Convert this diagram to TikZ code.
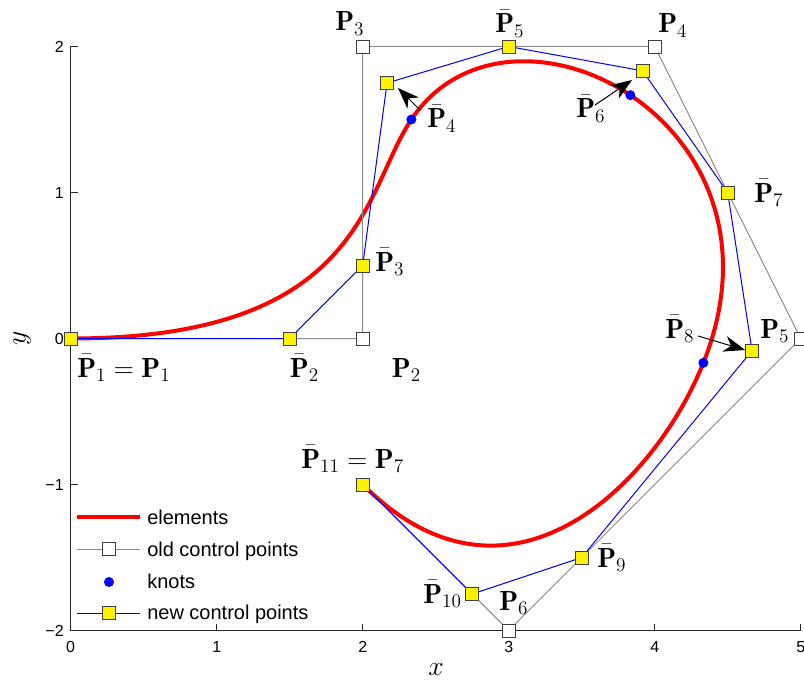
\documentclass[tikz,border=0pt]{standalone}
\usepackage{fontspec}
\newfontfamily\axfont{Liberation Sans}
\usetikzlibrary{arrows.meta}
\begin{document}
\begin{tikzpicture}[x=109.5pt,y=109.5pt,
  axisline/.style={line width=0.75pt,black!85},
  ticklab/.style={inner sep=0pt,font=\axfont\fontsize{12}{14}\selectfont},
  legtext/.style={anchor=base west,inner sep=0pt,font=\axfont\fontsize{15}{18}\selectfont},
  ptlabel/.style={anchor=base west,inner sep=0pt,font=\fontsize{20.74}{24}\selectfont},
  axlabel/.style={inner sep=0pt,font=\fontsize{20.74}{24}\selectfont},
  elem/.style={red,line width=3pt},
  oldline/.style={black!45,line width=0.75pt},
  newline/.style={blue,line width=0.75pt},
  oldmark/.style={rectangle,draw=black!75,fill=white,line width=0.6pt,minimum size=9.75pt,inner sep=0pt},
  newmark/.style={rectangle,draw=black!75,fill=yellow,line width=0.6pt,minimum size=9.75pt,inner sep=0pt},
  knotmark/.style={circle,fill=blue,minimum size=7.5pt,inner sep=0pt},
  arr/.style={-{Stealth[length=16pt,width=12pt,inset=5pt]},line width=0.75pt,black}]
\useasboundingbox (-0.4842,-2.3664) rectangle (5.0226,2.3185);

% data points
\coordinate (o1) at (0,0);
\coordinate (o2) at (2,0);
\coordinate (o3) at (2,2);
\coordinate (o4) at (4,2);
\coordinate (o5) at (5,0);
\coordinate (o6) at (3,-2);
\coordinate (o7) at (2,-1);
\coordinate (q1) at (0,0);
\coordinate (q2) at (1.5,0);
\coordinate (q3) at (2,0.5);
\coordinate (q4) at (2.16667,1.75);
\coordinate (q5) at (3,2);
\coordinate (q6) at (3.91667,1.83333);
\coordinate (q7) at (4.5,1);
\coordinate (q8) at (4.66667,-0.08333);
\coordinate (q9) at (3.5,-1.5);
\coordinate (q10) at (2.75,-1.75);
\coordinate (q11) at (2,-1);
\coordinate (k1) at (2.33333,1.5);
\coordinate (k2) at (3.83333,1.66667);
\coordinate (k3) at (4.33333,-0.16667);

% axes
\draw[axisline] (0,2) -- (0,-2) -- (5,-2);
\foreach \y/\t in {-2/−2,-1/−1,0/0,1/1,2/2}{
  \draw[axisline] (0,\y) -- ++(5.25pt,0);
  \node[ticklab,anchor=east] (yt\y) at (-0.0459,\y) {\t};
}
\foreach \x in {0,...,5}{
  \draw[axisline] (\x,-2) -- ++(0,5.25pt);
  \node[ticklab,anchor=north] (xt\x) at (\x,-2.0719) {\x};
}
\node[axlabel] (xl) at (2.5021,-2.2705) {$x$};
\node[axlabel,rotate=90] (yl) at (-0.3336,0) {$y$};

% elements
\draw[elem] (q1) .. controls (2,0) and (2,1) .. (k1)
  .. controls (2.66667,2) and (3.33333,2) .. (k2)
  .. controls (4.33333,1.33333) and (4.66667,0.66667) .. (k3)
  .. controls (4,-1) and (3,-2) .. (q11);

% old control polygon
\draw[oldline] (o1) -- (o2) -- (o3) -- (o4) -- (o5) -- (o6) -- (o7);
\foreach \i in {1,...,7}{ \node[oldmark] (O\i) at (o\i) {}; }

% knots
\foreach \i in {1,2,3}{ \node[knotmark] (K\i) at (k\i) {}; }

% new control polygon
\draw[newline] (q1) -- (q2) -- (q3) -- (q4) -- (q5) -- (q6) -- (q7) -- (q8) -- (q9) -- (q10) -- (q11);
\foreach \i in {1,...,11}{ \node[newmark] (Q\i) at (q\i) {}; }

% labels
\node[ptlabel] (l3) at (1.8103,2.1062) {$\mathbf{P}_3$};
\node[ptlabel] (lb5) at (2.9062,2.0925) {$\bar{\mathbf{P}}_5$};
\node[ptlabel] (l4) at (4.0226,2.0925) {$\mathbf{P}_4$};
\node[ptlabel] (lb4) at (2.4404,1.4418) {$\bar{\mathbf{P}}_4$};
\node[ptlabel] (lb6) at (3.4610,1.5103) {$\bar{\mathbf{P}}_6$};
\node[ptlabel] (lb7) at (4.6801,0.9349) {$\bar{\mathbf{P}}_7$};
\node[ptlabel] (lb8) at (4.0705,0.0034) {$\bar{\mathbf{P}}_8$};
\node[ptlabel] (l5) at (4.7212,0.0034) {$\mathbf{P}_5$};
\node[ptlabel] (lb3) at (2.0842,0.4623) {$\bar{\mathbf{P}}_3$};
\node[ptlabel] (lb1) at (0.0432,-0.2637) {$\bar{\mathbf{P}}_1=\mathbf{P}_1$};
\node[ptlabel] (lb2) at (1.4993,-0.2637) {$\bar{\mathbf{P}}_2$};
\node[ptlabel] (l2) at (2.1979,-0.2637) {$\mathbf{P}_2$};
\node[ptlabel] (lb11) at (1.5774,-0.8870) {$\bar{\mathbf{P}}_{11}=\mathbf{P}_7$};
\node[ptlabel] (lb10) at (2.4130,-1.8116) {$\bar{\mathbf{P}}_{10}$};
\node[ptlabel] (l6) at (2.9336,-1.8596) {$\mathbf{P}_6$};
\node[ptlabel] (lb9) at (3.6048,-1.5651) {$\bar{\mathbf{P}}_9$};

% arrows
\coordinate (a4s) at (2.3925,1.5651);
\coordinate (a4e) at (2.2418,1.7158);
\coordinate (a6s) at (3.5911,1.5993);
\coordinate (a6e) at (3.8445,1.7705);
\coordinate (a8s) at (4.2973,0.0171);
\coordinate (a8e) at (4.6192,-0.0788);
\draw[arr] (a4s) -- (a4e);
\draw[arr] (a6s) -- (a6e);
\draw[arr] (a8s) -- (a8e);

% legend
\coordinate (g1a) at (0.0432,-1.2226); \coordinate (g1b) at (0.4747,-1.2226);
\coordinate (g2a) at (0.0432,-1.4418); \coordinate (g2b) at (0.4747,-1.4418);
\coordinate (g2m) at (0.2623,-1.4418);
\coordinate (g3m) at (0.2623,-1.6678);
\coordinate (g4a) at (0.0432,-1.8801); \coordinate (g4b) at (0.4747,-1.8801);
\coordinate (g4m) at (0.2623,-1.8801);
\draw[elem] (g1a) -- (g1b);
\draw[oldline] (g2a) -- (g2b);
\node[oldmark] (G2) at (g2m) {};
\node[knotmark] (G3) at (g3m) {};
\draw[newline] (g4a) -- (g4b);
\node[newmark] (G4) at (g4m) {};
\node[legtext] (t1) at (0.5226,-1.2705) {elements};
\node[legtext] (t2) at (0.5226,-1.4897) {old control points};
\node[legtext] (t3) at (0.5226,-1.7089) {knots};
\node[legtext] (t4) at (0.5226,-1.9212) {new control points};
\end{tikzpicture}
\end{document}
